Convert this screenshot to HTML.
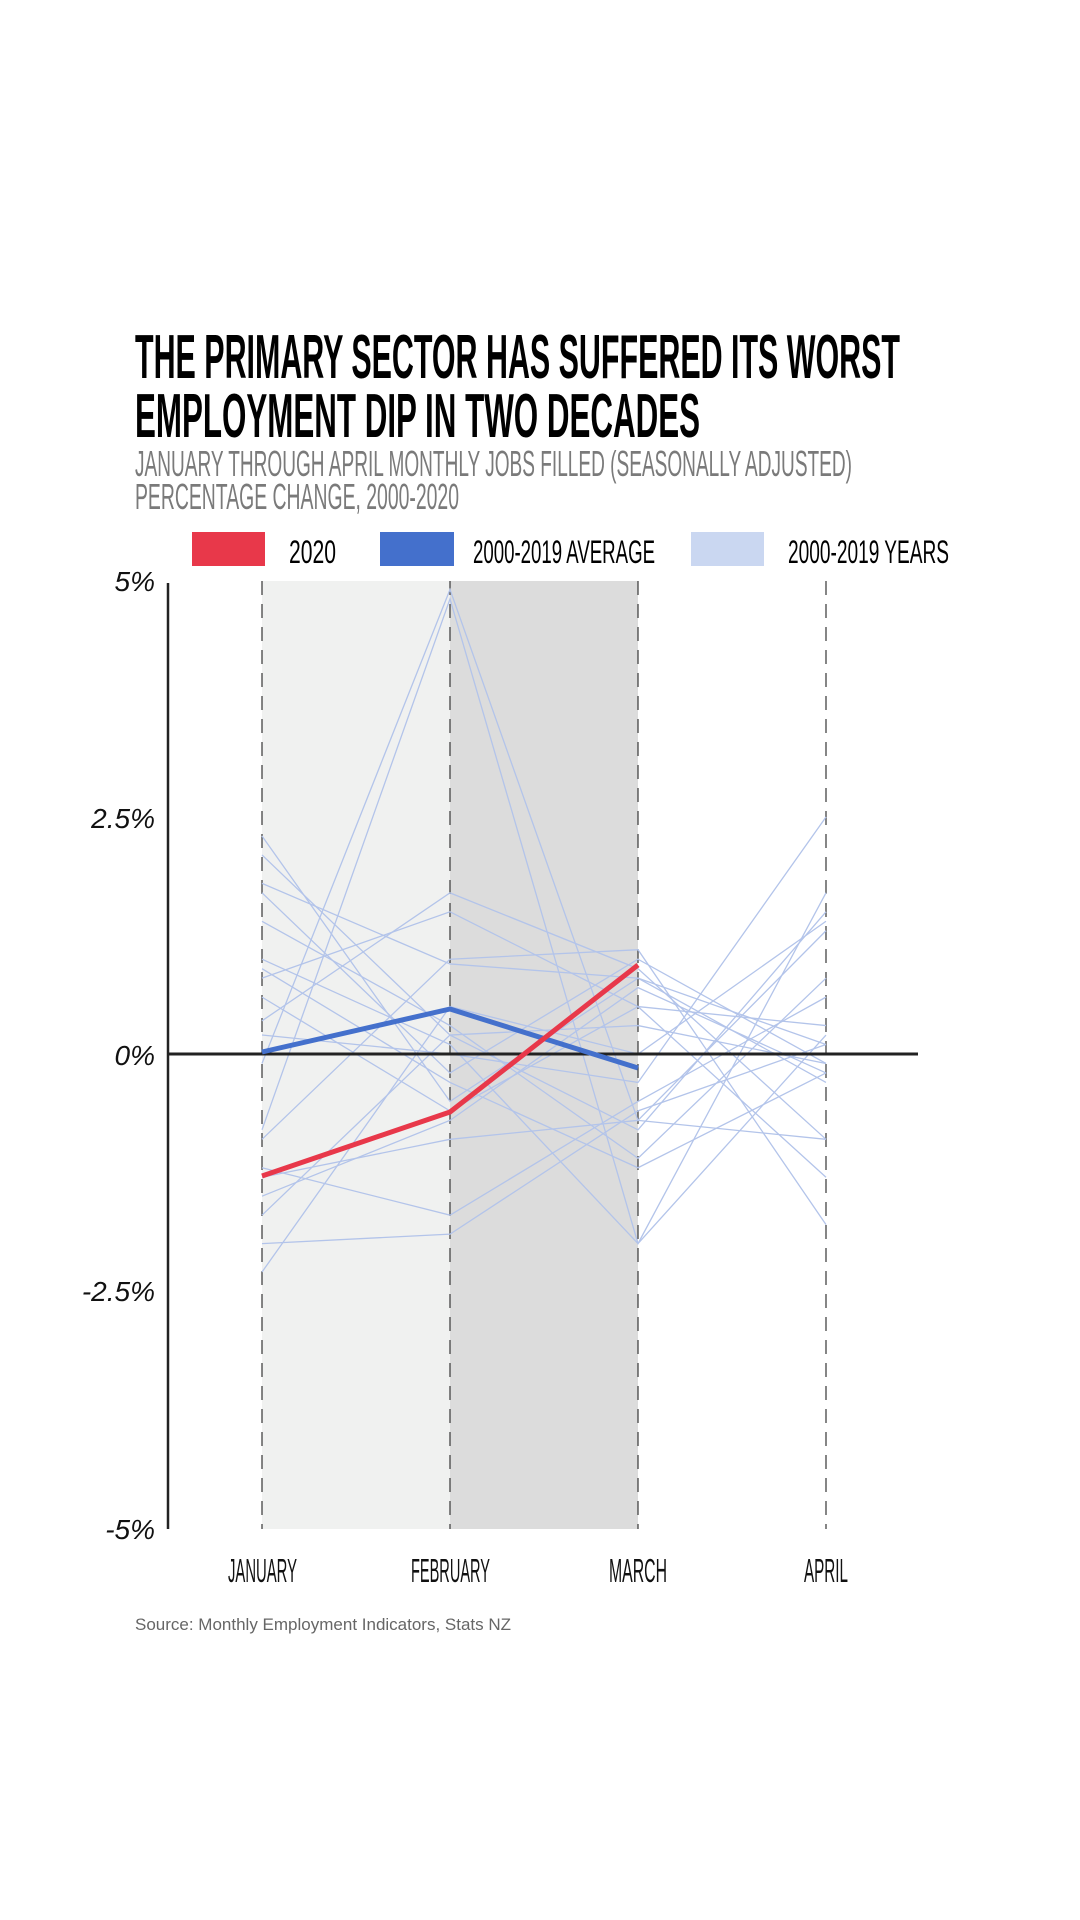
<!DOCTYPE html>
<html><head><meta charset="utf-8"><style>
html,body{margin:0;padding:0;background:#fff;width:1080px;height:1920px;overflow:hidden}
svg{display:block}
.h{font-family:"Liberation Sans Narrow","Liberation Sans",sans-serif;font-weight:bold}
.l{fill:none;stroke:#b3c4ea;stroke-width:1.3;vector-effect:non-scaling-stroke}
</style></head><body>
<svg width="1080" height="1920" viewBox="0 0 1080 1920" xmlns="http://www.w3.org/2000/svg">
<text class="h" x="135" y="378" font-size="62" textLength="765" lengthAdjust="spacingAndGlyphs" fill="#000">THE PRIMARY SECTOR HAS SUFFERED ITS WORST</text>
<text class="h" x="135" y="437" font-size="62" textLength="565" lengthAdjust="spacingAndGlyphs" fill="#000">EMPLOYMENT DIP IN TWO DECADES</text>
<text x="135" y="476" font-family="Liberation Sans Narrow,Liberation Sans,sans-serif" font-size="36" textLength="717" lengthAdjust="spacingAndGlyphs" fill="#7a7a7a">JANUARY THROUGH APRIL MONTHLY JOBS FILLED (SEASONALLY ADJUSTED)</text>
<text x="135" y="509" font-family="Liberation Sans Narrow,Liberation Sans,sans-serif" font-size="36" textLength="324" lengthAdjust="spacingAndGlyphs" fill="#7a7a7a">PERCENTAGE CHANGE, 2000-2020</text>
<rect x="192" y="532" width="73" height="34" fill="#e8384a"/>
<text x="289" y="563" font-family="Liberation Sans Narrow,Liberation Sans,sans-serif" font-size="32" textLength="47" lengthAdjust="spacingAndGlyphs">2020</text>
<rect x="380" y="532" width="74" height="34" fill="#4470cc"/>
<text x="473" y="563" font-family="Liberation Sans Narrow,Liberation Sans,sans-serif" font-size="32" textLength="182" lengthAdjust="spacingAndGlyphs">2000-2019 AVERAGE</text>
<rect x="691" y="532" width="73" height="34" fill="#cad7f1"/>
<text x="788" y="563" font-family="Liberation Sans Narrow,Liberation Sans,sans-serif" font-size="32" textLength="161" lengthAdjust="spacingAndGlyphs">2000-2019 YEARS</text>
<rect x="262" y="581" width="188" height="948" fill="#f0f1f0"/>
<rect x="450" y="581" width="188" height="948" fill="#dcdcdc"/>
<g stroke="#444" stroke-width="1.3" stroke-dasharray="14 9">
<line x1="262" y1="581" x2="262" y2="1529"/><line x1="450" y1="581" x2="450" y2="1529"/>
<line x1="638" y1="581" x2="638" y2="1529"/><line x1="826" y1="581" x2="826" y2="1529"/>
</g>
<g transform="translate(0,1054) scale(1,-94.8)">
<polyline class="l" points="262,2.3 450,-0.5 638,0.8 826,-0.3"/>
<polyline class="l" points="262,2.1 450,0.2 638,-0.8 826,1.5"/>
<polyline class="l" points="262,1.7 450,-0.2 638,1.0 826,-0.1"/>
<polyline class="l" points="262,1.4 450,0.3 638,-1.1 826,0.8"/>
<polyline class="l" points="262,1.0 450,0.1 638,-2.0 826,1.7"/>
<polyline class="l" points="262,0.8 450,1.5 638,0.5 826,-1.3"/>
<polyline class="l" points="262,0.35 450,1.7 638,0.9 826,-0.9"/>
<polyline class="l" points="262,0.2 450,0.0 638,-0.3 826,2.5"/>
<polyline class="l" points="262,-0.1 450,4.9 638,-0.7 826,1.3"/>
<polyline class="l" points="262,-0.8 450,4.8 638,-2.0 826,0.2"/>
<polyline class="l" points="262,-0.9 450,1.0 638,1.1 826,-1.8"/>
<polyline class="l" points="262,-1.2 450,-1.7 638,-0.5 826,0.6"/>
<polyline class="l" points="262,-1.5 450,-0.7 638,0.7 826,-0.2"/>
<polyline class="l" points="262,-1.7 450,0.2 638,0.3 826,-0.1"/>
<polyline class="l" points="262,-2.0 450,-1.9 638,-0.6 826,0.1"/>
<polyline class="l" points="262,-2.3 450,0.5 638,0.0 826,1.4"/>
<polyline class="l" points="262,0.9 450,-0.3 638,-1.2 826,-0.2"/>
<polyline class="l" points="262,1.8 450,0.95 638,0.8 826,0.1"/>
<polyline class="l" points="262,-1.3 450,-0.9 638,-0.7 826,-0.9"/>
<polyline class="l" points="262,0.6 450,-0.6 638,0.5 826,0.3"/>
</g>
<line x1="168" y1="1054" x2="918" y2="1054" stroke="#222" stroke-width="3"/>
<polyline points="262,1052 450,1009 638,1068" fill="none" stroke="#4470cc" stroke-width="5" stroke-linejoin="round"/>
<polyline points="262,1176 450,1112 638,965" fill="none" stroke="#e8384a" stroke-width="5" stroke-linejoin="round"/>
<line x1="168" y1="583" x2="168" y2="1529" stroke="#222" stroke-width="2.5"/>
<g font-family="Liberation Sans Narrow,Liberation Sans,sans-serif" font-size="28" font-style="italic" text-anchor="end" fill="#111">
<text x="155" y="591">5%</text><text x="155" y="828">2.5%</text><text x="155" y="1065">0%</text>
<text x="155" y="1301">-2.5%</text><text x="155" y="1539">-5%</text>
</g>
<g font-family="Liberation Sans Narrow,Liberation Sans,sans-serif" font-size="33" fill="#111">
<text x="228" y="1582" textLength="69" lengthAdjust="spacingAndGlyphs">JANUARY</text>
<text x="411" y="1582" textLength="79" lengthAdjust="spacingAndGlyphs">FEBRUARY</text>
<text x="609" y="1582" textLength="58" lengthAdjust="spacingAndGlyphs">MARCH</text>
<text x="804" y="1582" textLength="44" lengthAdjust="spacingAndGlyphs">APRIL</text>
</g>
<text x="135" y="1630" font-family="Liberation Sans,sans-serif" font-size="17" fill="#666">Source: Monthly Employment Indicators, Stats NZ</text>
</svg>
</body></html>
